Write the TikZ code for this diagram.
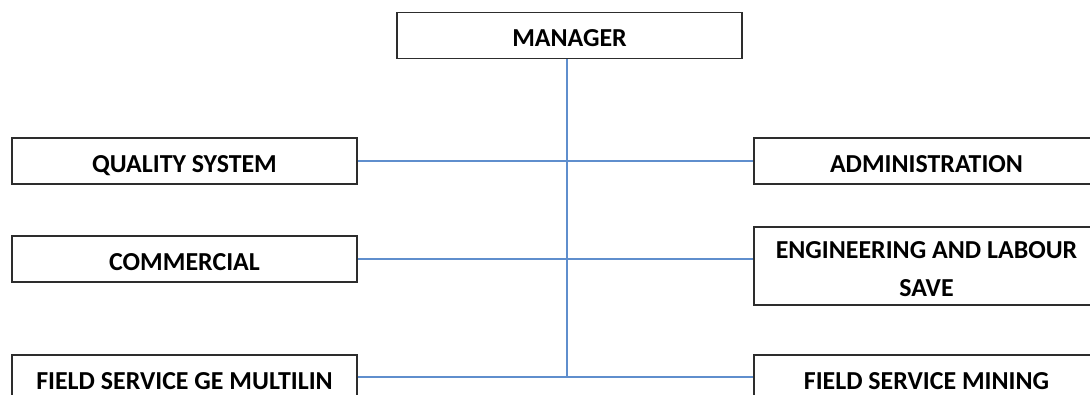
\documentclass[tikz,border=0pt]{standalone}
\usepackage{fontspec}
\setmainfont{Carlito}
\usepackage{xcolor}
\definecolor{linkblue}{RGB}{95,142,205}
\definecolor{boxgray}{RGB}{45,45,45}

\begin{document}
\begin{tikzpicture}[x=1bp,y=-1bp,
    unit/.style={draw=boxgray,line width=1.3bp,rectangle,minimum width=345bp,
        minimum height=46bp,inner sep=0pt,align=center,
        text height=22bp,text depth=0pt,
        font=\fontsize{26}{38}\selectfont\bfseries},
    link/.style={draw=linkblue,line width=1.2bp}]
\useasboundingbox (0,0) rectangle (1090,394);
\node[unit] (mgr) at (569.5,35.5){MANAGER};
\node[unit] (qs) at (184.5,161){QUALITY SYSTEM};
\node[unit] (adm) at (926.5,161){ADMINISTRATION};
\node[unit] (com) at (184.5,259){COMMERCIAL};
\node[unit,minimum height=78bp,text height={},text depth={}] (eng) at (926.5,266)
    {\rule{0pt}{23bp}ENGINEERING AND LABOUR\\SAVE};
\node[unit] (fgm) at (184.5,378){FIELD SERVICE GE MULTILIN};
\node[unit] (fsm) at (926.5,378){FIELD SERVICE MINING};
\coordinate (spine) at (567,377);
\begin{scope}[link]
    \draw (spine |- mgr.south) -- (spine);
    \draw (qs.east) -- (adm.west);
    \draw (com.east) -- (com.east -| eng.west);
    \draw (fgm.east |- spine) -- (spine -| fsm.west);
\end{scope}
\end{tikzpicture}
\end{document}
